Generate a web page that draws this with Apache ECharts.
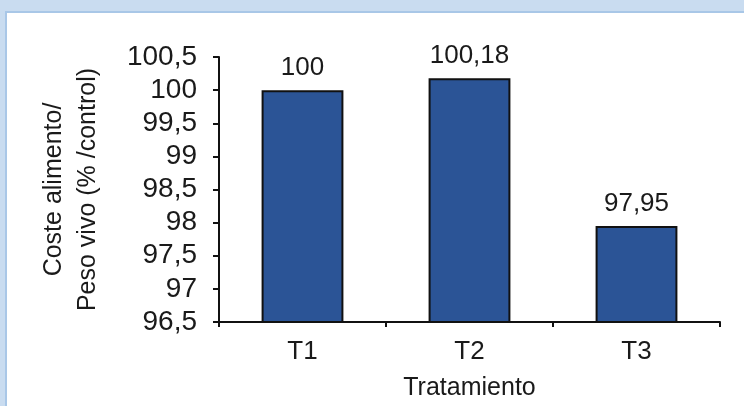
<!DOCTYPE html>
<html>
<head>
<meta charset="utf-8">
<script src="https://cdn.jsdelivr.net/npm/echarts@6/dist/echarts.min.js"></script>
<style>
html,body{margin:0;padding:0;width:744px;height:406px;overflow:hidden;background:#c9dcf0;}
#panel{position:absolute;left:5px;top:11px;width:739px;height:395px;background:#fff;border-left:2px solid #a9c7e7;border-top:2px solid #a9c7e7;box-sizing:border-box;}
#chart{position:absolute;left:0;top:0;width:744px;height:406px;}
</style>
</head>
<body>
<div id="panel"></div>
<div id="chart"></div>
<script>
const categories = ['T1', 'T2', 'T3'];
const values = [100, 100.18, 97.95];
const valueLabels = ['100', '100,18', '97,95'];
const yMin = 96.5, yMax = 100.5, yStep = 0.5;
const yTitle = 'Coste alimento/\nPeso vivo (% /control)';
const xTitle = 'Tratamiento';

const chart = echarts.init(document.getElementById('chart'), null, {renderer: 'canvas'});
const font = 'Liberation Sans, Arial, sans-serif';
chart.setOption({
  animation: false,
  backgroundColor: 'transparent',
  grid: {left: 219, right: 24, top: 57, bottom: 80},
  xAxis: {
    type: 'category',
    data: categories,
    name: xTitle,
    nameLocation: 'middle',
    nameGap: 54,
    nameTextStyle: {fontFamily: font, fontSize: 25, color: '#1a1a1a'},
    axisLine: {lineStyle: {color: '#111', width: 2}},
    axisTick: {show: true, length: 5, lineStyle: {color: '#111', width: 2}},
    axisLabel: {fontFamily: font, fontSize: 26, color: '#1a1a1a', margin: 17}
  },
  yAxis: {
    type: 'value',
    min: yMin, max: yMax, interval: yStep,
    name: yTitle,
    nameLocation: 'middle',
    nameRotate: 90,
    nameGap: 114,
    nameTextStyle: {fontFamily: font, fontSize: 25, color: '#1a1a1a', lineHeight: 34},
    axisLine: {show: true, lineStyle: {color: '#111', width: 2}},
    axisTick: {show: true, length: 6, lineStyle: {color: '#111', width: 2}},
    splitLine: {show: false},
    axisLabel: {
      fontFamily: font, fontSize: 28, color: '#1a1a1a', margin: 22,
      formatter: v => String(Math.round(v * 10) / 10).replace('.', ',')
    }
  },
  series: [{
    type: 'bar',
    data: values,
    barWidth: '49%',
    itemStyle: {color: '#2b5496', borderColor: '#111', borderWidth: 2},
    label: {
      show: true, position: 'top', distance: 9,
      fontFamily: font, fontSize: 26, color: '#1a1a1a',
      formatter: p => valueLabels[p.dataIndex]
    }
  }]
});
</script>
</body>
</html>
